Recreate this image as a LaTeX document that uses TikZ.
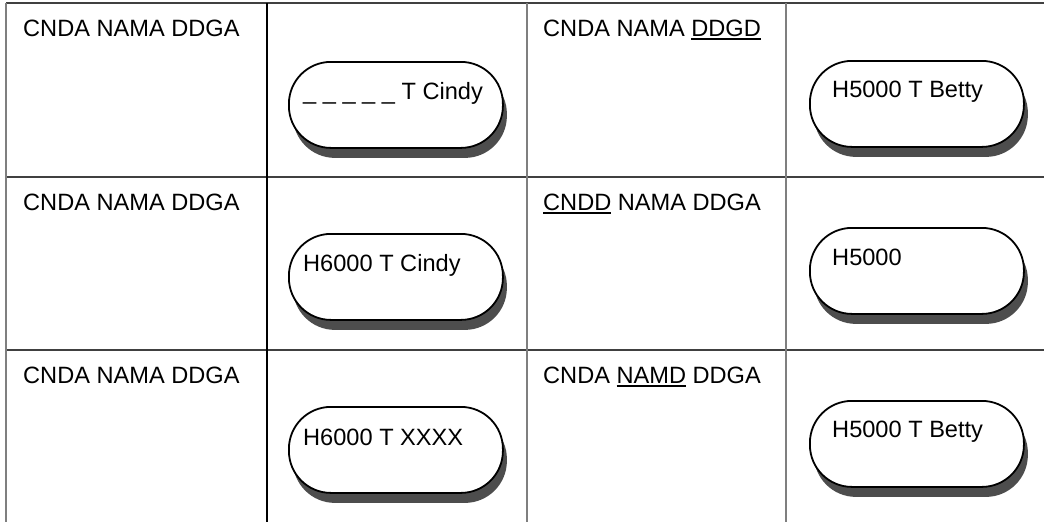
\documentclass[tikz,border=0pt]{standalone}
\usepackage{fontspec}
\setmainfont{Liberation Sans}
\usetikzlibrary{shadows}
\definecolor{shadowgray}{HTML}{4D4D4D}
\definecolor{gridgray}{HTML}{7F7F7F}
\definecolor{griddark}{HTML}{404040}
\newcommand\myul[1]{\setbox0\hbox{#1}\rlap{\rule[-3.5pt]{\wd0}{1.6pt}}\box0\relax}
\tikzset{
  pill/.style={draw=black, line width=1.8pt, fill=white, rectangle, rounded corners=42pt,
    minimum width=214pt, minimum height=86pt, anchor=north west, inner sep=0pt,
    drop shadow={shadow xshift=4pt, shadow yshift=-10pt, fill=shadowgray, opacity=1}},
  lbl/.style={anchor=base west, inner sep=0pt, font=\fontsize{23.6}{28}\selectfont},
  gridline/.style={line width=1.4pt},
}
\begin{document}
\begin{tikzpicture}[x=1pt,y=-1pt]
\useasboundingbox (0,0) rectangle (1044,522);
% grid
\coordinate (t0) at (6,3);    \coordinate (t4) at (1044,3);
\coordinate (h1a) at (6,177); \coordinate (h1b) at (1044,177);
\coordinate (h2a) at (6,350); \coordinate (h2b) at (1044,350);
\coordinate (v0a) at (6,3);   \coordinate (v0b) at (6,522);
\coordinate (v1a) at (267,3); \coordinate (v1b) at (267,522);
\coordinate (v2a) at (527,3); \coordinate (v2b) at (527,522);
\coordinate (v3a) at (786,3); \coordinate (v3b) at (786,522);
\draw[gridline, griddark] (t0) -- (t4);
\draw[gridline, griddark] (h1a) -- (h1b);
\draw[gridline, griddark] (h2a) -- (h2b);
\draw[gridline, gridgray, line width=2pt] (v0a) -- (v0b);
\draw[gridline, black] (v1a) -- (v1b);
\draw[gridline, gridgray] (v2a) -- (v2b);
\draw[gridline, gridgray] (v3a) -- (v3b);
% column 1 and 3 texts
\node[lbl] (c11) at (23,36) {CNDA NAMA DDGA};
\node[lbl] (c21) at (23,210) {CNDA NAMA DDGA};
\node[lbl] (c31) at (23,383) {CNDA NAMA DDGA};
\node[lbl] (c13) at (543,36) {CNDA NAMA \myul{DDGD}};
\node[lbl] (c23) at (543,210) {\myul{CNDD} NAMA DDGA};
\node[lbl] (c33) at (543,383) {CNDA \myul{NAMD} DDGA};
% pills
\node[pill] (p12) at (288,61) {};
\node[lbl] (t12) at (303,99) {\_ \_ \_ \_ \_ T Cindy};
\node[pill] (p14) at (809,60) {};
\node[lbl] (t14) at (832,97) {H5000 T Betty};
\node[pill] (p22) at (288,233) {};
\node[lbl] (t22) at (303,271) {H6000 T Cindy};
\node[pill] (p24) at (809,227) {};
\node[lbl] (t24) at (832,265) {H5000};
\node[pill] (p32) at (288,406) {};
\node[lbl] (t32) at (303,445) {H6000 T XXXX};
\node[pill] (p34) at (809,400) {};
\node[lbl] (t34) at (832,437) {H5000 T Betty};
\end{tikzpicture}
\end{document}
